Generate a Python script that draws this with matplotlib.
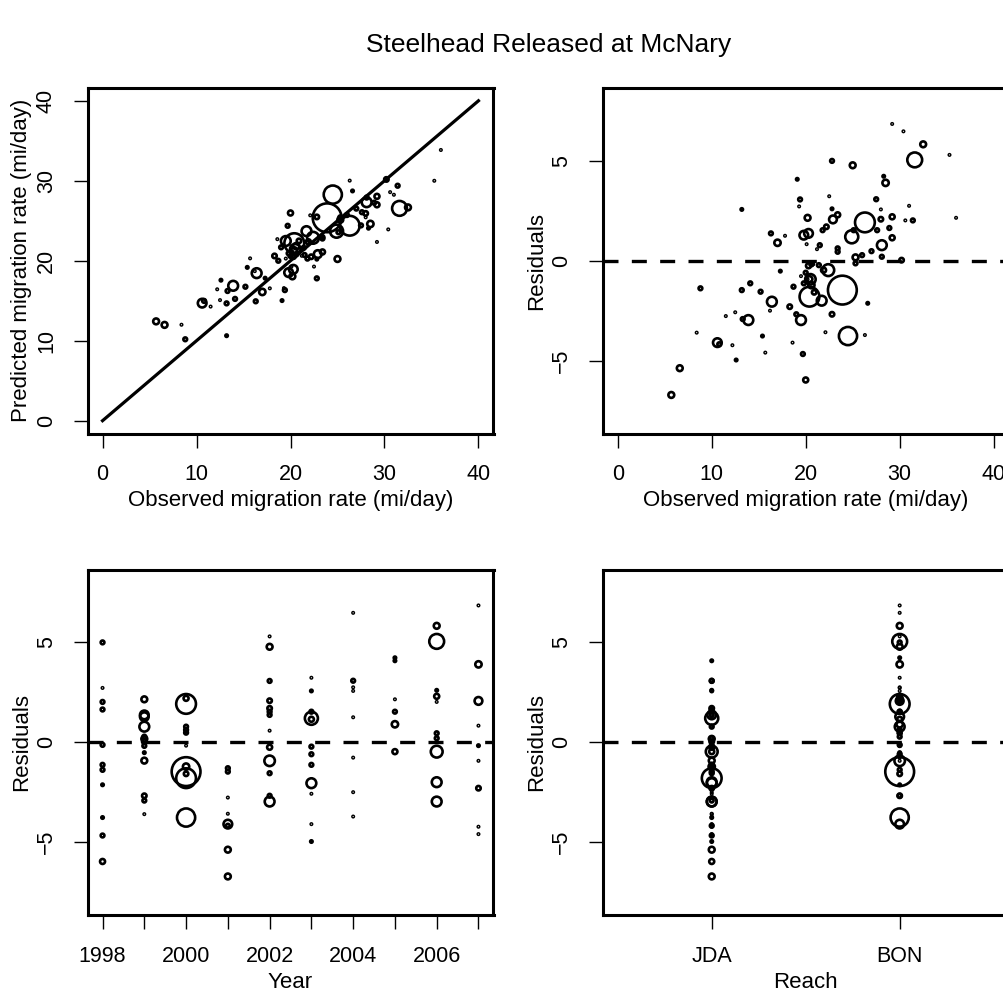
import matplotlib
matplotlib.use('Agg')
import matplotlib.pyplot as plt
import numpy as np

plt.rcParams['font.family'] = ['Liberation Sans', 'DejaVu Sans']

##---------------------------input data-------------------------------##
title = 'Steelhead Released at McNary'

year = [1998] * 11 + [1999] * 13 + [2000] * 11 + [2001] * 8 + [2002] * 13 + \
       [2003] * 12 + [2004] * 8 + [2005] * 6 + [2006] * 10 + [2007] * 9

reach = ['BON', 'BON', 'BON', 'JDA', 'BON', 'JDA', 'BON', 'BON', 'JDA', 'JDA', 'JDA',
         'BON', 'JDA', 'BON', 'BON', 'BON', 'JDA', 'JDA', 'JDA', 'BON', 'JDA', 'BON', 'JDA', 'JDA',
         'BON', 'BON', 'JDA', 'BON', 'BON', 'JDA', 'JDA', 'BON', 'BON', 'JDA', 'BON',
         'JDA', 'JDA', 'JDA', 'JDA', 'BON', 'JDA', 'JDA', 'JDA',
         'BON', 'BON', 'JDA', 'BON', 'JDA', 'BON', 'JDA', 'BON', 'JDA', 'BON', 'JDA', 'BON', 'JDA',
         'BON', 'JDA', 'BON', 'JDA', 'BON', 'JDA', 'BON', 'JDA', 'JDA', 'JDA', 'JDA', 'JDA',
         'BON', 'JDA', 'BON', 'BON', 'JDA', 'BON', 'JDA', 'JDA',
         'BON', 'JDA', 'BON', 'JDA', 'BON', 'JDA',
         'BON', 'BON', 'JDA', 'BON', 'BON', 'BON', 'JDA', 'JDA', 'JDA', 'JDA',
         'BON', 'BON', 'BON', 'JDA', 'BON', 'BON', 'JDA', 'JDA', 'JDA']

observed = [22.8, 19.3, 31.4, 28.9, 25.3, 14.1, 8.8, 26.6, 15.4, 19.7, 20.0,
            20.2, 20.3, 19.8, 28.1, 26.0, 25.3, 30.2, 20.6, 17.3, 20.4, 22.8, 13.3, 8.4,
            29.2, 26.3, 21.5, 23.4, 27.0, 20.8, 20.6, 23.9, 20.9, 20.4, 24.5,
            18.7, 13.2, 11.5, 22.1, 10.6, 10.8, 6.6, 5.7,
            35.3, 25.0, 19.4, 28.0, 22.2, 25.1, 16.3, 21.2, 20.3, 20.5, 15.2, 19.0, 13.9,
            22.5, 13.2, 27.6, 24.9, 29.2, 21.4, 20.0, 19.8, 16.4, 12.5, 18.6, 12.6,
            30.4, 27.5, 31.0, 28.0, 17.8, 19.5, 16.2, 26.3,
            28.3, 19.1, 36.0, 21.8, 17.0, 21.9,
            32.5, 31.6, 22.8, 23.4, 30.6, 23.4, 28.1, 22.4, 21.7, 19.5,
            29.2, 28.5, 22.9, 20.1, 20.7, 20.2, 18.3, 12.2, 15.7]

residual = [5.00, 2.72, 2.02, 1.64, -0.13, -1.13, -1.38, -2.13, -3.77, -4.67, -5.97,
            2.15, 1.37, 1.28, 0.78, 0.28, 0.17, 0.03, -0.18, -0.52, -0.92, -2.68, -2.92, -3.60,
            2.20, 1.92, 0.78, 0.62, 0.48, -0.17, -1.22, -1.47, -1.58, -1.80, -3.77,
            -1.30, -1.47, -2.77, -3.58, -4.10, -4.18, -5.38, -6.72,
            5.30, 4.78, 3.07, 2.08, 1.70, 1.53, 1.37, 0.58, -0.25, -0.93, -1.55, -2.68, -2.97,
            3.23, 2.57, 1.53, 1.20, 1.15, -0.22, -0.60, -1.13, -2.05, -2.58, -4.10, -4.97,
            6.48, 3.08, 2.75, 2.57, 1.25, -0.77, -2.50, -3.72,
            4.23, 4.08, 2.15, 1.53, 0.90, -0.47,
            5.83, 5.05, 2.60, 2.30, 2.02, 0.45, 0.20, -0.47, -2.00, -2.97,
            6.85, 3.90, 2.07, 0.83, -0.17, -0.93, -2.30, -4.23, -4.60]

n_fish = [14, 2, 14, 14, 14, 14, 14, 6, 6, 14, 25,
          34, 75, 75, 96, 14, 34, 20, 14, 6, 34, 20, 14, 2,
          25, 390, 14, 14, 14, 2, 40, 830, 20, 390, 330,
          14, 14, 2, 2, 75, 14, 34, 34,
          2, 34, 14, 20, 20, 14, 14, 2, 25, 110, 14, 14, 96,
          2, 6, 14, 170, 25, 14, 14, 14, 96, 2, 2, 6,
          2, 14, 2, 2, 2, 2, 2, 2,
          6, 6, 2, 14, 40, 25,
          34, 220, 6, 25, 2, 14, 14, 140, 96, 96,
          2, 40, 60, 2, 6, 2, 20, 2, 2]

reach_levels = ['JDA', 'BON']
rate_ticks = [0, 10, 20, 30, 40]
one_to_one = [0, 40]
resid_ticks = [-5, 0, 5]
year_ticks = list(range(1998, 2008))

##----------------------------derived values----------------------------##
observed = np.array(observed)
residual = np.array(residual)
predicted = observed - residual
sizes = np.array(n_fish) * 0.72 ** 2
reach_x = [reach_levels.index(r) + 1 for r in reach]

##----------------------------figure----------------------------##
W, H = 1004, 996
fig = plt.figure(figsize=(W / 100, H / 100), dpi=100)

pw, ph = 406, 345.5


def panel(left, top):
    ax = fig.add_axes([left / W, 1 - (top + ph) / H, pw / W, ph / H])
    for s in ax.spines.values():
        s.set_linewidth(2.2)
    ax.tick_params(direction='out', length=10, width=1, pad=12, labelsize=15.5, colors='k')
    ax.tick_params(axis='y', labelrotation=90)
    return ax


def labels(ax, xlab, ylab):
    ax.set_xlabel(xlab, fontsize=16)
    ax.set_ylabel(ylab, fontsize=16)
    ax.xaxis.set_label_coords(0.5, -67 / ph)
    ax.yaxis.set_label_coords(-66 / pw, 0.5)
    ax.xaxis.label.set_va('center')
    ax.yaxis.label.set_va('center')


def bubbles(ax, x, y):
    ax.scatter(x, y, s=sizes, facecolors='none', edgecolors='k', linewidths=1.9, zorder=1)


def zero_line(ax):
    ax.axhline(0, color='k', lw=2.4, dashes=(4.5, 4), zorder=3)


# ---- predicted vs observed
ax1 = panel(87.5, 88)
bubbles(ax1, observed, predicted)
ax1.plot(one_to_one, one_to_one, color='k', lw=2.3, zorder=3)
ax1.set_xlim(-1.6, 41.6)
ax1.set_ylim(-1.6, 41.6)
ax1.set_xticks(rate_ticks)
ax1.set_yticks(rate_ticks)
labels(ax1, 'Observed migration rate (mi/day)', 'Predicted migration rate (mi/day)')

# ---- residuals vs observed
ax2 = panel(602.7, 88)
bubbles(ax2, observed, residual)
zero_line(ax2)
ax2.set_xlim(-1.6, 41.6)
ax2.set_ylim(-8.65, 8.65)
ax2.set_xticks(rate_ticks)
ax2.set_yticks(resid_ticks)
labels(ax2, 'Observed migration rate (mi/day)', 'Residuals')

# ---- residuals vs year
ax3 = panel(87.5, 569.5)
bubbles(ax3, year, residual)
zero_line(ax3)
ax3.set_xlim(1997.64, 2007.36)
ax3.set_ylim(-8.65, 8.65)
ax3.set_xticks(year_ticks)
ax3.set_xticklabels([str(y) if y % 2 == 0 else '' for y in year_ticks])
ax3.set_yticks(resid_ticks)
labels(ax3, 'Year', 'Residuals')

# ---- residuals vs reach
ax4 = panel(602.7, 569.5)
bubbles(ax4, reach_x, residual)
zero_line(ax4)
ax4.set_xlim(0.42, 2.58)
ax4.set_ylim(-8.65, 8.65)
ax4.set_xticks([1, 2])
ax4.set_xticklabels(reach_levels)
ax4.set_yticks(resid_ticks)
labels(ax4, 'Reach', 'Residuals')

for ax in (ax1, ax2, ax3, ax4):
    for lab in ax.get_yticklabels():
        lab.set_va('center')

fig.text(549 / W, 1 - 45 / H, title, ha='center', va='center', fontsize=19)

fig.savefig('out.png', dpi=100)
